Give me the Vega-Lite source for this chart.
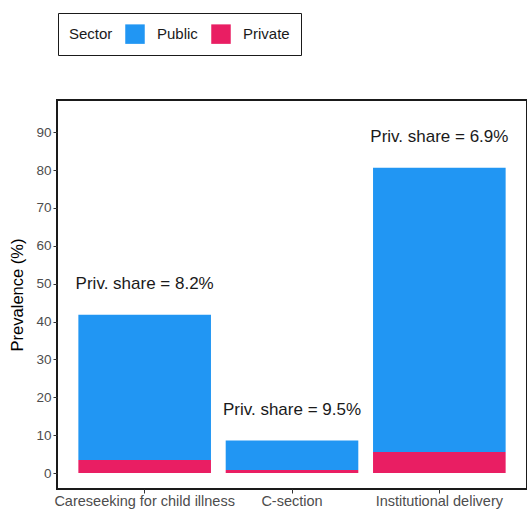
{
  "$schema": "https://vega.github.io/schema/vega-lite/v6.json",
  "width": 470,
  "height": 389,
  "autosize": {"type": "none"},
  "padding": {"left": 57, "top": 100, "right": 0, "bottom": 24},
  "config": {
    "font": "Liberation Sans",
    "view": {"stroke": "#1a1a1a", "strokeWidth": 2},
    "axis": {"grid": false, "domain": false, "tickColor": "#333333", "tickSize": 4, "labelColor": "#4d4d4d", "labelFontSize": 14.5, "labelFont": "Liberation Sans", "titleFont": "Liberation Sans", "titleFontWeight": "normal", "titleColor": "#000000", "labelOverlap": false, "labelLimit": 400}
  },
  "datasets": {
    "bars": [
      {"indicator": "Careseeking for child illness", "sector": "Public", "value": 38.37},
      {"indicator": "Careseeking for child illness", "sector": "Private", "value": 3.43},
      {"indicator": "C-section", "sector": "Public", "value": 7.78},
      {"indicator": "C-section", "sector": "Private", "value": 0.82},
      {"indicator": "Institutional delivery", "sector": "Public", "value": 75.04},
      {"indicator": "Institutional delivery", "sector": "Private", "value": 5.56}
    ],
    "labels": [
      {"indicator": "Careseeking for child illness", "total": 41.8, "label": "Priv. share = 8.2%"},
      {"indicator": "C-section", "total": 8.6, "label": "Priv. share = 9.5%"},
      {"indicator": "Institutional delivery", "total": 80.6, "label": "Priv. share = 6.9%"}
    ]
  },
  "layer": [
    {
      "data": {"name": "bars"},
      "mark": {"type": "bar"},
      "encoding": {
        "x": {
          "field": "indicator", "type": "nominal", "sort": ["Careseeking for child illness", "C-section", "Institutional delivery"],
          "scale": {"paddingInner": 0.1, "paddingOuter": 0.145},
          "axis": {"title": null, "labelAngle": 0, "labelPadding": 1, "labelLimit": 400}
        },
        "y": {
          "field": "value", "type": "quantitative", "stack": "zero",
          "scale": {"domain": [-4.2, 98.5], "nice": false, "zero": false},
          "axis": {"title": "Prevalence (%)", "titleFontSize": 16.5, "labelFontSize": 13.5, "values": [0, 10, 20, 30, 40, 50, 60, 70, 80, 90], "labelPadding": 2, "titlePadding": 10}
        },
        "color": {
          "field": "sector", "type": "nominal",
          "scale": {"domain": ["Public", "Private"], "range": ["#2196F3", "#E91E63"]},
          "legend": {
            "title": "Sector", "orient": "none", "legendX": 1, "legendY": -87, "direction": "horizontal",
            "titleOrient": "left", "titleFontSize": 15, "titleFontWeight": "normal", "titleColor": "#1a1a1a", "titlePadding": 12, "titleBaseline": "middle",
            "strokeColor": "#1a1a1a", "fillColor": "white", "padding": 11,
            "symbolType": "square", "symbolSize": 380, "symbolStrokeWidth": 0, "symbolOpacity": 1,
            "labelFontSize": 15, "labelColor": "#1a1a1a", "labelOffset": 12, "columnPadding": 13
          }
        },
        "order": {"field": "sector", "sort": "ascending"}
      }
    },
    {
      "data": {"name": "labels"},
      "mark": {"type": "text", "baseline": "middle", "align": "center", "dy": -31, "fontSize": 17, "color": "#1a1a1a"},
      "encoding": {
        "x": {"field": "indicator", "type": "nominal", "sort": ["Careseeking for child illness", "C-section", "Institutional delivery"]},
        "y": {"field": "total", "type": "quantitative"},
        "text": {"field": "label"}
      }
    }
  ]
}
